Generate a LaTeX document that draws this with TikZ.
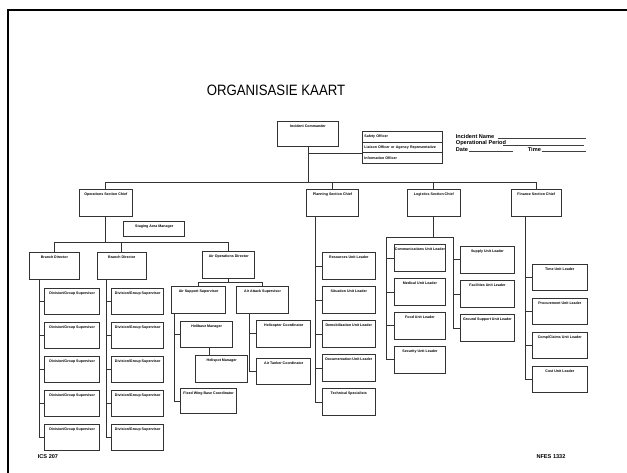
\documentclass[tikz,border=0pt]{standalone}
\usepackage{fontspec}
\setmainfont{Liberation Sans}
\usetikzlibrary{calc}
\tikzset{
  ubox/.style={draw=black!80, line width=0.9pt, fill=white, rectangle, anchor=north west,
    inner xsep=0pt, inner ysep=1pt, text height=5pt, font=\fontsize{3.6}{4}\selectfont\bfseries},
  staffrow/.style={draw=black!80, line width=0.8pt, rectangle, anchor=north west, inner xsep=2pt,
    inner ysep=0pt, text width=76pt, minimum height=10.7pt, align=left, font=\fontsize{3.6}{4}\selectfont\bfseries},
  conn/.style={draw=black!80, line width=0.8pt},
  info/.style={font=\fontsize{5.6}{6}\selectfont\bfseries, inner sep=0pt, anchor=base west},
  uline/.style={draw=black!75, line width=0.5pt},
  foot/.style={font=\fontsize{5.6}{6}\selectfont\bfseries, inner sep=0pt},
}
\newcommand\bx[6]{\pgfmathsetmacro\bxw{#4-#2}\pgfmathsetmacro\bxd{#5-#3-7}%
  \node[ubox, minimum width=\bxw pt, text depth=\bxd pt] (#1) at (#2,#3) {#6};}
\begin{document}
\begin{tikzpicture}[x=1pt,y=-1pt]
\useasboundingbox[fill=white] (0,0) rectangle (627,473);
% frame
\draw[line width=2.2pt] (8,473) -- (8,10) -- (627,10);
% title
\node[font=\fontsize{15}{15}\selectfont, xscale=0.88] (title) at (276,90) {ORGANISASIE KAART};
% incident info
\node[info] (iname) at (455.7,138.3) {Incident Name};
\draw[uline] (497.7,138.3) -- (585.7,138.3);
\node[info] (iper) at (455.7,144.8) {Operational Period};
\draw[uline] (503,144.8) -- (584.3,144.8);
\node[info] (idate) at (455.7,151.5) {Date};
\draw[uline] (469.3,151.5) -- (512.7,151.5);
\node[info] (itime) at (527.7,151.5) {Time};
\draw[uline] (541.7,151.5) -- (586,151.5);
% command
\bx{ic}{277}{121}{338}{146}{Incident Commander}
\node[staffrow] (s1) at (362,131) {Safety Officer};
\node[staffrow] (s2) at (362,141.7) {Liaison Officer or Agency Representative};
\node[staffrow] (s3) at (362,152.4) {Information Officer};
% sections
\bx{ops}{79}{189.3}{131.7}{215.7}{Operations Section Chief}
\bx{plan}{305.7}{189.3}{358.3}{215.7}{Planning Section Chief}
\bx{log}{406.7}{189.3}{460}{215.7}{Logistics Section Chief}
\bx{fin}{510.7}{189.3}{560.7}{215.7}{Finance Section Chief}
\bx{stag}{123.3}{220.7}{184.3}{235.7}{Staging Area Manager}
% operations
\bx{br1}{29}{252.5}{79}{279}{Branch Director}
\bx{br2}{96.7}{252.5}{146}{279}{Branch Director}
\bx{aod}{202.3}{251.3}{254.3}{277.7}{Air Operations Director}
\foreach \i/\yy in {1/287.7,2/321.7,3/355.7,4/389.7,5/423.7}{
  \pgfmathsetmacro\yb{\yy+26}
  \bx{da\i}{44.3}{\yy}{99.3}{\yb}{Division/Group Supervisor}
  \bx{db\i}{111.3}{\yy}{163.3}{\yb}{Division/Group Supervisor}
}
\bx{ass}{171}{286.3}{225.3}{312.7}{Air Support Supervisor}
\bx{aas}{236}{286.3}{288.3}{312.7}{Air Attack Supervisor}
\bx{hbm}{180.3}{321.3}{232.3}{347.3}{Helibase Manager}
\bx{hsm}{195.3}{355.3}{247.3}{381.7}{Helispot Manager}
\bx{fwb}{180.3}{387.7}{236}{413.3}{Fixed Wing Base Coordinator}
\bx{hc}{256.3}{320}{310.3}{346.7}{Helicopter Coordinator}
\bx{atc}{256.3}{357.7}{310.3}{384.3}{Air Tanker Coordinator}
% planning
\foreach \i/\yy/\tx in {1/252.3/{Resources Unit Leader},2/286.3/{Situation Unit Leader},
   3/320.3/{Demobilization Unit Leader},4/354.3/{Documentation Unit Leader},5/388.3/{Technical Specialists}}{
  \pgfmathsetmacro\yb{\yy+26.7}
  \bx{p\i}{321.7}{\yy}{375}{\yb}{\tx}
}
% logistics
\foreach \i/\yy/\tx in {1/244.5/{Communications Unit Leader},2/278.2/{Medical Unit Leader},
   3/311.9/{Food Unit Leader},4/345.6/{Security Unit Leader}}{
  \pgfmathsetmacro\yb{\yy+27}
  \bx{ll\i}{393.7}{\yy}{445.3}{\yb}{\tx}
}
\foreach \i/\yy/\tx in {1/246/{Supply Unit Leader},2/280.3/{Facilities Unit Leader},
   3/314.3/{Ground Support Unit Leader}}{
  \pgfmathsetmacro\yb{\yy+26.7}
  \bx{lr\i}{460}{\yy}{514}{\yb}{\tx}
}
% finance
\foreach \i/\yy/\tx in {1/263.7/{Time Unit Leader},2/297.7/{Procurement Unit Leader},
   3/331.7/{Comp/Claims Unit Leader},4/365.7/{Cost Unit Leader}}{
  \pgfmathsetmacro\yb{\yy+26.7}
  \bx{f\i}{532}{\yy}{586.7}{\yb}{\tx}
}
% footer
\node[foot] (ics) at (48,457) {ICS 207};
\node[foot] (nfes) at (551,457) {NFES 1332};
% ---------- connectors
\coordinate (busY) at (0,182);
\draw[conn] (ic.south) -- (ic.south |- busY);
\draw[conn] (ic.south |- s2.south west) -- (s2.south west);
\draw[conn] (ops.north |- busY) -- (fin.north |- busY);
\foreach \n in {ops,plan,log,fin} \draw[conn] (\n.north) -- (\n.north |- busY);
\coordinate (opsY) at (0,242);
\draw[conn] (ops.south) -- (ops.south |- opsY);
\draw[conn] (br1.north |- opsY) -- (aod.north |- opsY);
\foreach \n in {br1,br2,aod} \draw[conn] (\n.north) -- (\n.north |- opsY);
% branch columns
\coordinate (c1) at ($(br1.south west)+(10,0)$);
\draw[conn] (c1) |- (da5.west);
\foreach \i in {1,...,4} \draw[conn] (c1 |- da\i.west) -- (da\i.west);
\coordinate (c2) at ($(br2.south west)+(10,0)$);
\draw[conn] (c2) |- (db5.west);
\foreach \i in {1,...,4} \draw[conn] (c2 |- db\i.west) -- (db\i.west);
% air ops
\coordinate (aY) at (0,282.3);
\draw[conn] (aod.south) -- (aod.south |- aY);
\draw[conn] (ass.north |- aY) -- (aas.north |- aY);
\draw[conn] (ass.north) -- (ass.north |- aY);
\draw[conn] (aas.north) -- (aas.north |- aY);
\coordinate (ca) at ($(ass.south west)+(3.7,0)$);
\draw[conn] (ca) |- (fwb.west);
\draw[conn] (ca |- hbm.west) -- (hbm.west);
\draw[conn] ($(hbm.south west)+(29,0)$) -- ($(hsm.north west)+(14,0)$);
\coordinate (cb) at ($(aas.south west)+(13.7,0)$);
\draw[conn] (cb) |- (atc.west);
\draw[conn] (cb |- hc.west) -- (hc.west);
% planning
\coordinate (cp) at ($(plan.south west)+(10,0)$);
\draw[conn] (cp) |- (p5.west);
\foreach \i in {1,...,4} \draw[conn] (cp |- p\i.west) -- (p\i.west);
% logistics
\coordinate (lL) at (386,237.3);
\coordinate (lR) at (453.3,237.3);
\draw[conn] (log.south) -- (log.south |- lL);
\draw[conn] (lL) -- (lR);
\draw[conn] (lL) |- (ll4.west);
\foreach \i in {1,...,3} \draw[conn] (lL |- ll\i.west) -- (ll\i.west);
\draw[conn] (lR) |- (lr3.west);
\foreach \i in {1,2} \draw[conn] (lR |- lr\i.west) -- (lr\i.west);
% finance
\coordinate (cf) at ($(fin.south west)+(15,0)$);
\draw[conn] (cf) |- (f4.west);
\foreach \i in {1,...,3} \draw[conn] (cf |- f\i.west) -- (f\i.west);
\end{tikzpicture}
\end{document}
